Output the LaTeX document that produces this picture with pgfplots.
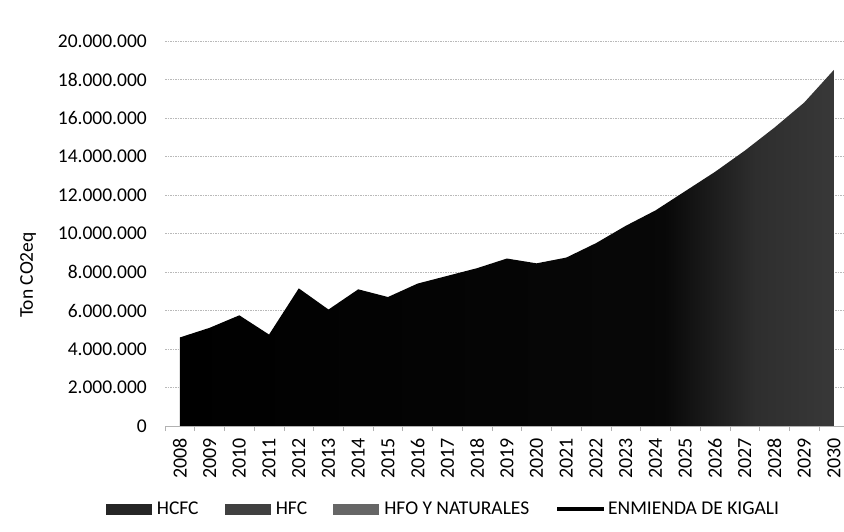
\documentclass[border=0pt]{standalone}
\usepackage{fontspec}
\setmainfont{Carlito}
\usepackage{pgfplots}
\pgfplotsset{compat=1.18}
\pgfdeclarehorizontalshading{areash}{100bp}{color(0bp)=(black); color(25bp)=(black); color(62bp)=(black!97); color(69bp)=(black!82); color(75bp)=(black!78); color(100bp)=(black!78)}
\begin{document}
\begin{tikzpicture}
\useasboundingbox (0,0) rectangle (844bp,532bp);
\begin{axis}[
  at={(165bp,106bp)}, anchor=south west,
  scale only axis, width=679bp, height=385bp,
  xmin=2007.5, xmax=2030.34,
  ymin=0, ymax=20000000,
  axis x line*=bottom, axis y line*=left,
  y axis line style={draw=none},
  x axis line style={gray!60, line width=0.7bp},
  ytick={0,2000000,...,20000000},
  scaled y ticks=false,
  xtick={2008,...,2030},
  minor xtick={2007.5,2008.5,...,2029.5},
  major tick length=0pt, minor tick length=5bp,
  tick align=outside,
  tick style={gray!60, line width=0.7bp},
  ytick style={draw=none},
  ymajorgrids,
  grid style={gray!55, dash pattern=on 1.5bp off 1bp, line width=0.6bp},
  /pgf/number format/assume math mode=true,
  x tick label style={/pgf/number format/1000 sep={}, rotate=90, anchor=east, inner sep=0pt, inner xsep=12bp, font=\fontsize{20bp}{22bp}\selectfont},
  y tick label style={/pgf/number format/.cd, fixed, 1000 sep={.}, /tikz/.cd, inner sep=0pt, xshift=-18bp, font=\fontsize{19.5bp}{22bp}\selectfont},
  legend columns=4,
  legend style={at={(0.41,-0.215)}, anchor=center, draw=none, fill=none,
    font=\fontsize{19.5bp}{22bp}\selectfont,
    /tikz/every even column/.append style={column sep=24bp}},
  legend cell align=left,
]
\addplot[draw=none, shade, shading=areash, forget plot] coordinates {
(2008,4600000) (2009,5100000) (2010,5750000) (2011,4750000) (2012,7150000)
(2013,6050000) (2014,7100000) (2015,6700000) (2016,7400000) (2017,7800000)
(2018,8200000) (2019,8700000) (2020,8450000) (2021,8750000) (2022,9500000)
(2023,10400000) (2024,11200000) (2025,12200000) (2026,13200000) (2027,14300000)
(2028,15500000) (2029,16800000) (2030,18500000)
} \closedcycle;
\addlegendimage{legend image code/.code={\path[draw=none,fill=none] (0bp,0bp) rectangle (49bp,0.1bp);\fill[black!85] (0bp,-5bp) rectangle (45bp,5bp);}}
\addlegendentry{HCFC}
\addlegendimage{legend image code/.code={\path[draw=none,fill=none] (0bp,0bp) rectangle (49bp,0.1bp);\fill[black!75] (0bp,-5bp) rectangle (45bp,5bp);}}
\addlegendentry{HFC}
\addlegendimage{legend image code/.code={\path[draw=none,fill=none] (0bp,0bp) rectangle (49bp,0.1bp);\fill[black!60] (0bp,-5bp) rectangle (45bp,5bp);}}
\addlegendentry{HFO Y NATURALES}
\addlegendimage{legend image code/.code={\draw[black, line width=4bp] (0bp,0bp) -- (47bp,0bp);}}
\addlegendentry{ENMIENDA DE KIGALI}
\end{axis}
\node[rotate=90, font=\fontsize{19.5bp}{22bp}\selectfont] at (28bp,257bp) {Ton CO2eq};
\end{tikzpicture}
\end{document}
